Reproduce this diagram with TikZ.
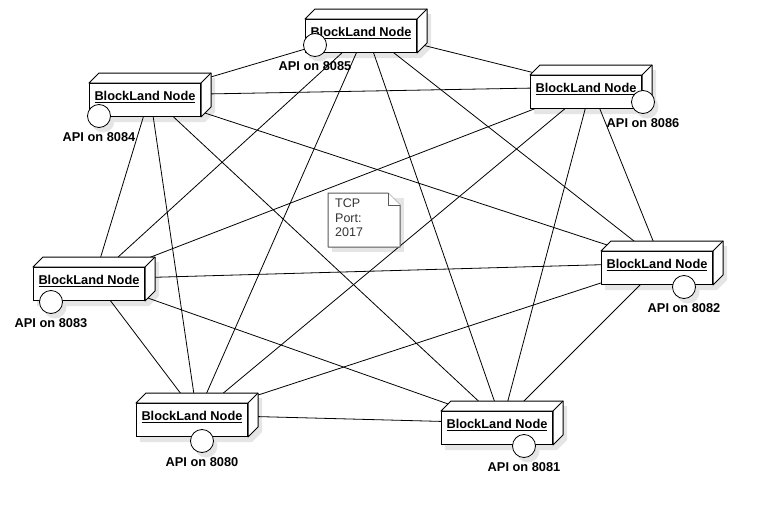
\documentclass[tikz,border=0pt]{standalone}
\usepackage{fontspec}
\setmainfont{Liberation Sans}
\usetikzlibrary{positioning}
\pgfdeclarelayer{shadows}
\pgfdeclarelayer{edges}
\pgfsetlayers{shadows,edges,main}

\tikzset{
  frontface/.style={draw, fill=white, line width=1pt, minimum width=111pt, minimum height=33pt, inner sep=0pt},
  boxface/.style={draw, fill=white, line width=1pt, line join=round},
  boxshadow/.style={fill=black!10, transform canvas={shift={(4pt,-5pt)}}},
  nodetitle/.style={inner sep=0pt, font=\fontsize{12.8}{14}\selectfont\bfseries},
  port/.style={circle, draw, fill=white, line width=0.8pt, minimum size=23pt, inner sep=0pt},
  portlabel/.style={inner sep=1pt, font=\fontsize{12.8}{14}\selectfont\bfseries},
  wire/.style={line width=0.8pt},
  notebox/.style={draw=black!65, fill=white, line width=1pt, line join=round},
  notetext/.style={inner sep=0pt, align=left, text=black!80, font=\fontsize{12.5}{14.5}\selectfont}
}

% name, front face centre, port, interface circle centre
\def\blnode(#1)(#2)(#3)(#4){%
  \node[frontface] (#1) at (#2) {};
  \draw[boxface] (#1.north west) -- ++(10,-10) -- ([shift={(10,-10)}]#1.north east)
    -- ([shift={(10,-10)}]#1.south east) -- (#1.south east) -- (#1.north east) -- cycle;
  \draw[boxface] (#1.north east) -- ++(10,-10);
  \node[nodetitle, below=8pt of #1.north] (#1t) {\underline{BlockLand Node}};
  \node[port] (#1p) at (#4) {};
  \node[portlabel, below=3pt of #1p] (#1l) {API on #3};
  \coordinate (#1c) at ([shift={(5,-5)}]#1.center);
  \begin{pgfonlayer}{shadows}
    \fill[boxshadow] (#1.south west) -- (#1.north west) -- ++(10,-10)
      -- ([shift={(10,-10)}]#1.north east) -- ([shift={(10,-10)}]#1.south east)
      -- (#1.south east) -- cycle;
    \fill[boxshadow] (#1p) circle (11.5);
  \end{pgfonlayer}
}

\begin{document}
\begin{tikzpicture}[x=1pt, y=-1pt]
  %%%%% START %%%%%
  \useasboundingbox (0,0) rectangle (764,522);

  \blnode(bl85)(361,36)(8085)(315,45)
  \blnode(bl86)(586,92)(8086)(643,102)
  \blnode(bl84)(145,100)(8084)(99,116)
  \blnode(bl83)(89,284)(8083)(51,302)
  \blnode(bl82)(657,268)(8082)(684,287)
  \blnode(bl80)(192,420)(8080)(202,441)
  \blnode(bl81)(497,428)(8081)(524,446)

  % tcp note
  \begin{pgfonlayer}{shadows}
    \fill[black!10] (332,198) rectangle (404,252);
  \end{pgfonlayer}
  \draw[notebox] (328,193) -- (388,193) -- (400,205) -- (400,247) -- (328,247) -- cycle;
  \draw[notebox] (388,193) -- (388,205) -- (400,205);
  \node[notetext, anchor=north west] (tcp) at (335,199) {TCP\\Port:\\2017};

  % full mesh
  \begin{pgfonlayer}{edges}
    \foreach \a/\b in {85/86, 85/84, 85/83, 85/82, 85/80, 85/81,
                       86/84, 86/83, 86/82, 86/80, 86/81,
                       84/83, 84/82, 84/80, 84/81,
                       83/82, 83/80, 83/81,
                       82/80, 82/81,
                       80/81}
      \draw[wire] (bl\a c) -- (bl\b c);
  \end{pgfonlayer}

  %%%%% END %%%%%
\end{tikzpicture}
\end{document}
